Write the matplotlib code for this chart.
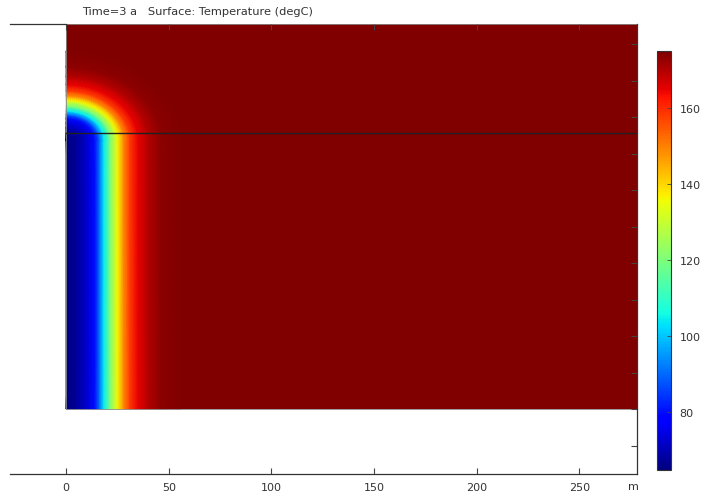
import numpy as np
import matplotlib
matplotlib.use('Agg')
import matplotlib.pyplot as plt
from matplotlib.patches import Rectangle
from matplotlib.colors import Normalize

# temperature profile: distance from the cold well [m] -> degC
dist_m = [0, 4, 8, 11, 14, 16.5, 18.5, 21.5, 25, 28, 31, 35, 40, 46, 56]
temp_c = [65, 66.5, 70, 74, 80, 92, 104, 120, 136, 149, 158, 165, 170, 173.5, 175]

x_ticks = [0, 50, 100, 150, 200, 250]
cbar_ticks = [80, 100, 120, 140, 160]
t_min, t_max = 64.7, 175.0

domain_w = 278.0
domain_h = 211.0
layer_y = 151.0      # horizontal boundary line
well_top = 147.0     # top of the cold zone
cap_squash = 0.88    # vertical squeeze of the rounded cap

title = 'Time=3 a   Surface: Temperature (degC)'
txt_col = '#333333'

W, H = 720, 502
fig = plt.figure(figsize=(W / 100, H / 100), dpi=100)
ax = fig.add_axes([10 / W, (H - 475) / H, 627 / W, 450 / H])

cmap = plt.get_cmap('jet')
norm = Normalize(vmin=t_min, vmax=t_max)

# background of the domain (hot rock)
ax.add_patch(Rectangle((0, 0), domain_w, domain_h, facecolor=cmap(norm(temp_c[-1])),
                       edgecolor='none', zorder=0.5))

# curvilinear mesh around the well: straight part and rounded cap
d = np.array(dist_m)
rows_x, rows_y = [], []
for yb in [0.0, well_top]:
    rows_x.append(d * 1.0)
    rows_y.append(np.full_like(d, yb))
for phi in np.linspace(0, np.pi / 2, 40)[1:]:
    rows_x.append(d * np.cos(phi))
    rows_y.append(well_top + cap_squash * d * np.sin(phi))
X = np.array(rows_x)
Y = np.array(rows_y)
C = np.tile(np.array(temp_c), (X.shape[0], 1))
mesh = ax.pcolormesh(X, Y, C, shading='gouraud', cmap=cmap, norm=norm, zorder=1)

# domain outline and layer boundary
ax.add_patch(Rectangle((0, 0), domain_w, domain_h, facecolor='none',
                       edgecolor='#8a8a8a', lw=0.6, zorder=1.2))
ax.plot([0, domain_w], [layer_y, layer_y], color='#202020', lw=1.0, zorder=1.3)

ax.set_xlim(-27.3, domain_w)
ax.set_ylim(-35.6, domain_h)

ax.set_xticks(x_ticks)
ax.set_xticklabels([str(v) for v in x_ticks])
ax.set_yticks(list(range(-20, 201, 20)))
ax.tick_params(axis='x', direction='in', top=True, bottom=True, length=4,
               width=0.8, color='#444444', labelsize=8, labelcolor=txt_col, pad=6)
ax.tick_params(axis='y', direction='in', left=False, right=True, labelleft=False,
               length=4, width=0.8, color='#444444')

ax.spines['left'].set_visible(False)
ax.spines['top'].set_bounds(-27.3, 0)
for s in ['top', 'right', 'bottom']:
    ax.spines[s].set_color('#333333')
    ax.spines[s].set_linewidth(0.9)

fig.text(633 / W, 1 - 487 / H, 'm', fontsize=8, color=txt_col, ha='center', va='center')
fig.text(82 / W, 1 - 12 / H, title, fontsize=8.2, color=txt_col, ha='left', va='center')

# colorbar
cax = fig.add_axes([657 / W, (H - 471) / H, 14 / W, 419 / H])
cb = fig.colorbar(mesh, cax=cax, ticks=cbar_ticks)
cb.ax.tick_params(direction='in', length=3, width=0.6, color='#444444',
                  labelsize=8, labelcolor=txt_col, pad=6)
cb.outline.set_edgecolor('#333333')
cb.outline.set_linewidth(0.8)

fig.savefig('out.png', dpi=100)
